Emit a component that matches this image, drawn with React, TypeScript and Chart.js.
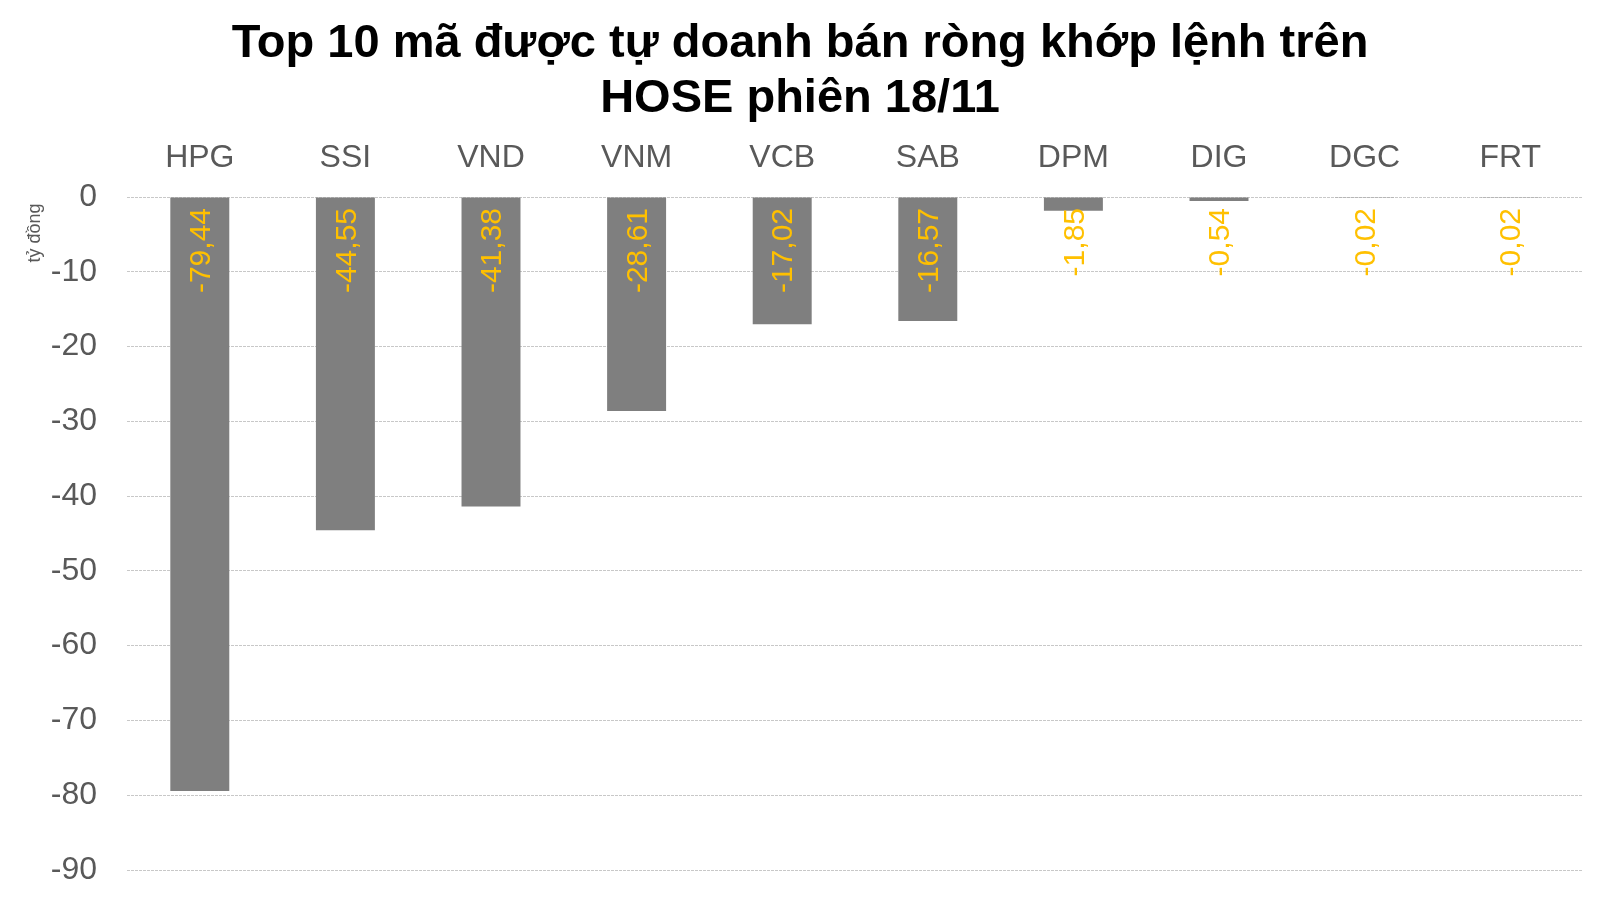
import React, { useEffect, useRef } from "react";
import { Chart, registerables } from "chart.js";

Chart.register(...registerables);

const titleLines = ["Top 10 mã được tự doanh bán ròng khớp lệnh trên", "HOSE phiên 18/11"];
const categories = ["HPG", "SSI", "VND", "VNM", "VCB", "SAB", "DPM", "DIG", "DGC", "FRT"];
const values = [-79.44, -44.55, -41.38, -28.61, -17.02, -16.57, -1.85, -0.54, -0.02, -0.02];
const yAxisTitle = "tỷ đồng";
const yMin = -90;
const yMax = 0;
const yStep = 10;

const FONT = "'Liberation Sans', Arial, Helvetica, sans-serif";

const customDraw = {
  id: "customDraw",
  afterDraw(chart: any) {
    const ctx = chart.ctx;
    ctx.save();
    // Title
    ctx.fillStyle = "#000000";
    ctx.font = `bold 47px ${FONT}`;
    ctx.textAlign = "center";
    ctx.textBaseline = "middle";
    titleLines.forEach((line, i) => {
      ctx.fillText(line, 800, 44 + i * 55);
    });
    // Y axis title
    ctx.save();
    ctx.translate(35, 233);
    ctx.rotate(-Math.PI / 2);
    ctx.fillStyle = "#595959";
    ctx.font = `18px ${FONT}`;
    ctx.textAlign = "center";
    ctx.textBaseline = "middle";
    ctx.fillText(yAxisTitle, 0, 0);
    ctx.restore();
    // Data labels
    const meta = chart.getDatasetMeta(0);
    const yScale = chart.scales.y;
    const zeroY = yScale.getPixelForValue(0);
    ctx.fillStyle = "#FFC000";
    ctx.font = `30px ${FONT}`;
    meta.data.forEach((bar: any, i: number) => {
      const v = chart.data.datasets[0].data[i] as number;
      const txt = v.toFixed(2).replace(".", ",");
      ctx.save();
      ctx.translate(bar.x + 2, zeroY + 11);
      ctx.rotate(-Math.PI / 2);
      ctx.textAlign = "right";
      ctx.textBaseline = "middle";
      ctx.fillText(txt, 0, 0);
      ctx.restore();
    });
    ctx.restore();
  },
};

export default function App() {
  const ref = useRef<HTMLCanvasElement | null>(null);
  useEffect(() => {
    if (!ref.current) return;
    const chart = new Chart(ref.current, {
      type: "bar",
      data: {
        labels: categories,
        datasets: [
          {
            data: values,
            backgroundColor: "#7f7f7f",
            borderWidth: 0,
            barPercentage: 0.405,
            categoryPercentage: 1,
          },
        ],
      },
      options: {
        animation: false,
        responsive: false,
        devicePixelRatio: 1,
        layout: { padding: { top: 118, right: 17, bottom: 29, left: 0 } },
        plugins: {
          legend: { display: false },
          title: { display: false },
          tooltip: { enabled: false },
        },
        scales: {
          x: {
            position: "top",
            grid: { display: false, drawTicks: false },
            border: { display: false },
            ticks: {
              color: "#595959",
              font: { family: FONT, size: 32 },
              padding: 20,
            },
            afterFit: (scale: any) => {
              scale.height = 79;
              scale.paddingLeft = 0;
              scale.paddingRight = 0;
            },
          },
          y: {
            min: yMin,
            max: yMax,
            grid: {
              color: "#c8c8c8",
              lineWidth: 1,
              drawTicks: false,
            },
            border: { display: false, dash: [3, 1] },
            ticks: {
              stepSize: yStep,
              color: "#595959",
              font: { family: FONT, size: 32 },
              padding: 30,
            },
            afterFit: (scale: any) => {
              scale.width = 127;
              scale.paddingTop = 0;
              scale.paddingBottom = 0;
            },
          },
        },
      },
      plugins: [customDraw],
    });
    return () => chart.destroy();
  }, []);
  return (
    <div style={{ position: "fixed", left: 0, top: 0, width: 1600, height: 899, background: "#fff" }}>
      <canvas ref={ref} width={1600} height={899} style={{ width: 1600, height: 899 }} />
    </div>
  );
}
